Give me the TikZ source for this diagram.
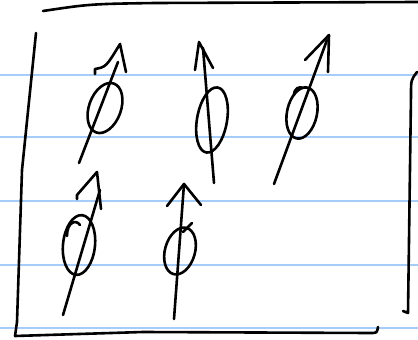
\documentclass[tikz,border=0pt]{standalone}
\usepackage{tikz}
\usetikzlibrary{arrows.meta}

\definecolor{rulecol}{RGB}{166,204,250}

\begin{document}
\begin{tikzpicture}[x=1pt, y=-1pt,
  ink/.style={draw=black, line width=2.6pt, line cap=round, line join=round},
  rule/.style={draw=rulecol, line width=2pt}
]
\useasboundingbox (0,0) rectangle (418,340);
\fill[white] (0,0) rectangle (418,340);

% paper lines
\foreach \y in {75,137,201,265,328}
  \draw[rule] (0,\y) -- (418,\y);

% frame
\draw[ink] (43,11) .. controls (90,4) .. (155,3) -- (418,2);
\draw[ink] (36,33) -- (22,170) -- (17,322) -- (15,336) -- (143,332) -- (370,333)
  .. controls (377,333) .. (378,327);
\draw[ink] (417,72) .. controls (411,80) .. (411,95) -- (408,313) -- (403,311);

% top row
\draw[ink, rotate around={-20:(105,108)}] (105,108) ellipse [x radius=16, y radius=26];
\draw[ink] (79,163) -- (118,62);
\draw[ink] (95,74) -- (95,69) .. controls (106,67) .. (120,44) -- (126,72);

\draw[ink, rotate around={-10:(212,120)}] (212,120) ellipse [x radius=15, y radius=33];
\draw[ink] (203,48) -- (214,183);
\draw[ink] (195,70) -- (199,42) -- (213,68);

\draw[ink, rotate around={-12:(302,113)}] (302,113) ellipse [x radius=15, y radius=26];
\draw[ink] (274,184) -- (327,40);
\draw[ink] (305,60) -- (329,35) -- (328,72);
\draw[ink] (294,95) .. controls (294,88) and (300,86) .. (303,88);

% bottom row
\draw[ink, rotate around={-6:(79,245)}] (79,245) ellipse [x radius=16, y radius=30];
\draw[ink] (63,315) -- (100,190);
\draw[ink] (77,199) -- (77,195) -- (97,172) -- (101,209);
\draw[ink] (67,236) .. controls (67,222) and (76,219) .. (80,225);

\draw[ink, rotate around={-16:(180,251)}] (180,251) ellipse [x radius=15, y radius=24];
\draw[ink] (184,184) -- (174,319);
\draw[ink] (167,206) -- (184,184) -- (201,205);
\draw[ink] (183,232) -- (192,223);
\end{tikzpicture}
\end{document}
